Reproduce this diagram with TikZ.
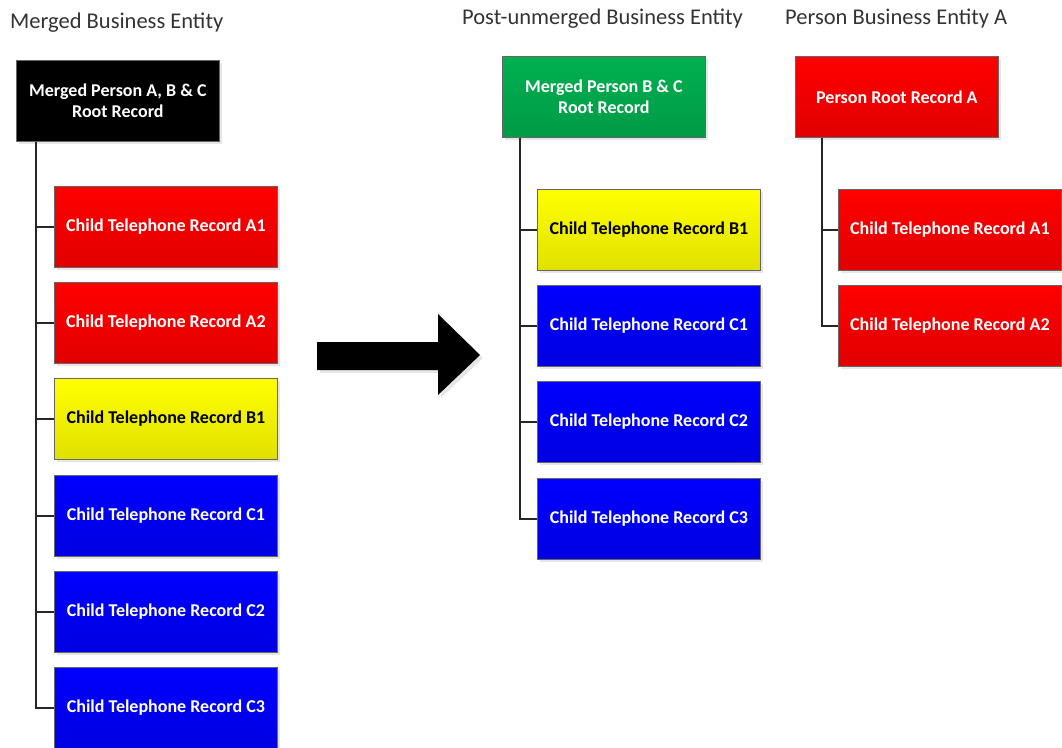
\documentclass[tikz,border=0pt]{standalone}
\usepackage{fontspec}
\setmainfont{Carlito}
\usepackage{xcolor}
\usepackage{tikz}
\usetikzlibrary{shadows}
\definecolor{recred}{HTML}{FF0000}
\definecolor{recyellow}{HTML}{FFFF00}
\definecolor{recblue}{HTML}{0000FF}
\definecolor{recgreen}{HTML}{00B050}
\tikzset{
  heading/.style={anchor=base west, inner sep=0pt,
                  font=\fontsize{22.5}{27}\selectfont, text=black!80},
  recbox/.style={rectangle, draw=black!60, line width=0.8pt,
                 anchor=north west, align=center, minimum height=81,
                 font=\bfseries\fontsize{18}{21.5}\selectfont,
                 top color=#1, bottom color=#1!88!black,
                 drop shadow={shadow xshift=3pt, shadow yshift=-3pt,
                              opacity=0.2}},
  rootbox/.style={recbox=#1, minimum width=203},
  childbox/.style={recbox=#1, minimum width=223},
  conn/.style={draw=black!85, line width=1.6pt},
}

\begin{document}
\begin{tikzpicture}[x=1pt,y=-1pt]
  \useasboundingbox (0,0) rectangle (1062,747);
  % headings
  \node[heading] (hmerged) at (10,28) {Merged Business Entity};
  \node[heading] (hpost)   at (462,24) {Post-unmerged Business Entity};
  \node[heading] (hperson) at (785,24) {Person Business Entity A};
  % root records
  \node[rootbox=black, text=white] (mroot) at (16,60)
        {Merged Person A, B \& C\\Root Record};
  \node[rootbox=recgreen, text=white] (proot) at (502,56)
        {Merged Person B \& C\\Root Record};
  \node[rootbox=recred, text=white] (aroot) at (795,56)
        {Person Root Record A};
  % merged children
  \foreach \name/\y/\col/\tc/\lbl in {mA1/186/recred/white/A1,
      mA2/282/recred/white/A2, mB1/378/recyellow/black/B1,
      mC1/475/recblue/white/C1, mC2/571/recblue/white/C2,
      mC3/667/recblue/white/C3}
    \node[childbox=\col, text=\tc] (\name) at (54,\y)
          {Child Telephone Record \lbl};
  % post-unmerged children
  \foreach \name/\y/\col/\tc/\lbl in {pB1/189/recyellow/black/B1,
      pC1/285/recblue/white/C1, pC2/381/recblue/white/C2,
      pC3/478/recblue/white/C3}
    \node[childbox=\col, text=\tc] (\name) at (537,\y)
          {Child Telephone Record \lbl};
  % person A children
  \foreach \name/\y/\lbl in {aA1/189/A1, aA2/285/A2}
    \node[childbox=recred, text=white] (\name) at (838,\y)
          {Child Telephone Record \lbl};
  % tree lines
  \coordinate (mtrunk) at (36,0);
  \coordinate (ptrunk) at (520,0);
  \coordinate (atrunk) at (822,0);
  \foreach \c in {mA1,mA2,mB1,mC1,mC2,mC3}
    \draw[conn] (mroot.south -| mtrunk) |- (\c.west);
  \foreach \c in {pB1,pC1,pC2,pC3}
    \draw[conn] (proot.south -| ptrunk) |- (\c.west);
  \foreach \c in {aA1,aA2}
    \draw[conn] (aroot.south -| atrunk) |- (\c.west);
  % big arrow
  \fill[black, drop shadow={shadow xshift=3pt, shadow yshift=-3pt,
                            opacity=0.2}]
    (317,342) -- (438,342) -- (438,314) -- (480,355)
    -- (438,395) -- (438,370) -- (317,370) -- cycle;
\end{tikzpicture}
\end{document}
